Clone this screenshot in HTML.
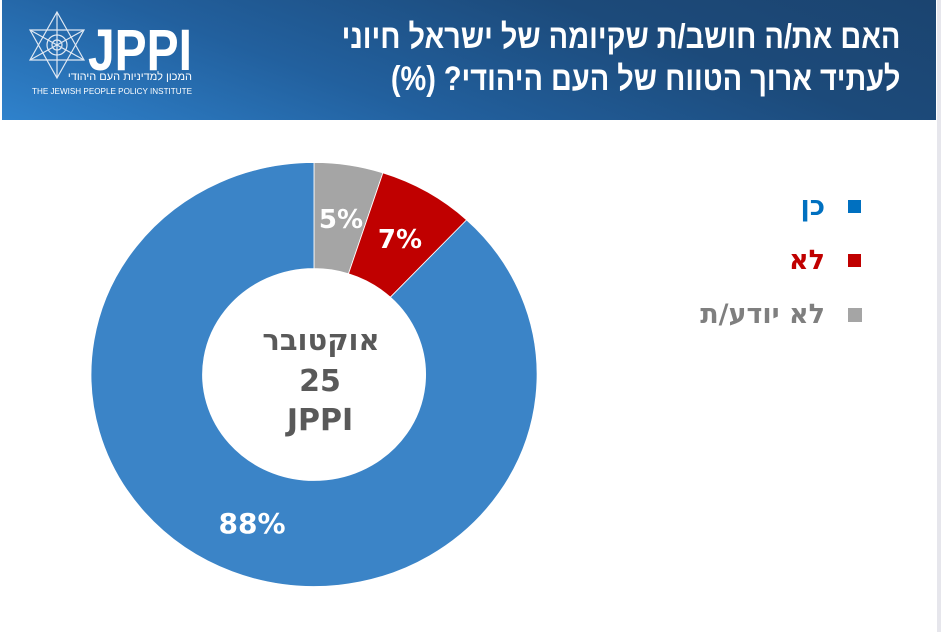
<!DOCTYPE html>
<html><head><meta charset="utf-8"><style>
body{margin:0;width:941px;height:632px;background:#fff;overflow:hidden;position:relative;font-family:"Liberation Sans","DejaVu Sans",sans-serif}
#hdr{position:absolute;left:2px;top:0;width:934px;height:120px;background:linear-gradient(20deg,#2f82cc 0%,#22609e 35%,#1c4a7a 70%,#1b4470 100%)}
.t{position:absolute;right:36px;color:#fff;font-weight:bold;font-size:34px;direction:rtl;white-space:nowrap;transform:scaleX(0.85);transform-origin:right center}
#strip{position:absolute;right:0;top:0;width:4px;height:632px;background:#e6e6ec}
.lg{position:absolute;font-family:"DejaVu Sans",sans-serif;font-weight:bold;font-size:27px;direction:rtl;white-space:nowrap;right:116px}
.sq{position:absolute;left:848px;width:13px;height:13px}
.heb{position:absolute;left:30px;top:71px;width:160px;text-align:right;direction:rtl;color:#fff;font-size:11px;white-space:nowrap}
</style></head><body>
<div id="hdr">
<svg width="200" height="110" style="position:absolute;left:0;top:0">
<g fill="none" stroke="#dfe8f3" stroke-width="1.2">
<polygon points="55,12 82,60 28,60"/><polygon points="55,78 82,30 28,30"/>
<circle cx="55" cy="45" r="10"/><circle cx="55" cy="45" r="5"/>
<line x1="55" y1="12" x2="55" y2="78"/><line x1="28" y1="30" x2="82" y2="60"/><line x1="82" y1="30" x2="28" y2="60"/>
</g>
<text x="86" y="70" fill="#fff" font-family="Liberation Sans" font-weight="bold" font-size="58" textLength="104" lengthAdjust="spacingAndGlyphs">JPPI</text>
<text x="30" y="94" fill="#fff" font-family="Liberation Sans" font-size="8" textLength="160" lengthAdjust="spacingAndGlyphs">THE JEWISH PEOPLE POLICY INSTITUTE</text>
</svg>
<div class="heb">המכון למדיניות העם היהודי</div>
<div class="t" style="top:18px">האם את/ה חושב/ת שקיומה של ישראל חיוני</div>
<div class="t" style="top:60px">לעתיד ארוך הטווח של העם היהודי? (%)</div>
</div>
<div id="strip"></div>
<svg width="941" height="632" style="position:absolute;left:0;top:0">
<g transform="translate(314,374.5) scale(1.052,1)" stroke="#fff" stroke-width="0.8">
<path d="M0,-212 A212,212 0 0 1 65.5,-201.6 L32.8,-100.8 A106,106 0 0 0 0,-106 Z" fill="#a5a5a5"/>
<path d="M65.5,-201.6 A212,212 0 0 1 145.1,-154.6 L72.6,-77.3 A106,106 0 0 0 32.8,-100.8 Z" fill="#c00000"/>
<path d="M145.1,-154.6 A212,212 0 1 1 0,-212 L0,-106 A106,106 0 1 0 72.6,-77.3 Z" fill="#3b84c7"/>
</g>
<g font-family="DejaVu Sans" font-weight="bold" fill="#fff" text-anchor="middle">
<text x="341" y="228" font-size="26">5%</text>
<text x="400" y="248" font-size="26">7%</text>
<text x="252" y="533" font-size="28">88%</text>
</g>
<g font-family="DejaVu Sans" font-weight="bold" fill="#595959" text-anchor="middle" font-size="30">
<text x="321" y="350" direction="rtl" font-size="29">אוקטובר</text>
<text x="320" y="391">25</text>
<text x="320" y="430">JPPI</text>
</g>
</svg>
<div class="sq" style="top:200px;background:#0070c0"></div>
<div class="sq" style="top:254px;background:#c00000"></div>
<div class="sq" style="top:308px;width:14px;height:14px;background:#a5a5a5"></div>
<div class="lg" style="top:191px;color:#0070c0">כן</div>
<div class="lg" style="top:245px;color:#c00000">לא</div>
<div class="lg" style="top:299px;color:#7f7f7f">לא יודע/ת</div>
</body></html>
